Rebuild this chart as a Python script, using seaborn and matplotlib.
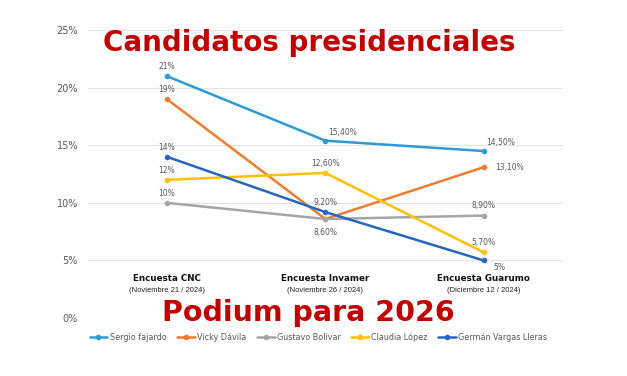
import matplotlib
matplotlib.use("Agg")
import matplotlib.pyplot as plt
import seaborn as sns
import pandas as pd
from matplotlib.lines import Line2D

encuestas = ["Encuesta CNC", "Encuesta Invamer", "Encuesta Guarumo"]
fechas = ["(Noviembre 21 / 2024)", "(Noviembre 26 / 2024)", "(Diciembre 12 / 2024)"]
candidatos = ["Sergio fajardo", "Vicky Dávila", "Gustavo Bolivar", "Claudia López", "Germán Vargas Lleras"]
sergio = [21.0, 15.4, 14.5]
vicky = [19.0, 8.6, 13.1]
gustavo = [10.0, 8.6, 8.9]
claudia = [12.0, 12.6, 5.7]
german = [14.0, 9.2, 5.0]
etiquetas = {
    "Sergio fajardo": ["21%", "15,40%", "14,50%"],
    "Vicky Dávila": ["19%", "", "13,10%"],
    "Gustavo Bolivar": ["10%", "8,60%", "8,90%"],
    "Claudia López": ["12%", "12,60%", "5,70%"],
    "Germán Vargas Lleras": ["14%", "9,20%", "5%"],
}
colores = ["#2E9BD6", "#ED7D31", "#A5A5A5", "#FFC000", "#2566C0"]
y_ticks = [0, 5, 10, 15, 20, 25]

valores = [sergio, vicky, gustavo, claudia, german]
rows = []
for c, vals in zip(candidatos, valores):
    for i, v in enumerate(vals):
        rows.append({"x": i, "valor": v, "candidato": c})
df = pd.DataFrame(rows)

sns.set_style("white")
fig = plt.figure(figsize=(6.27, 3.76), dpi=100)
ax = fig.add_axes([0.140, 0.154, 0.758, 0.766])

sns.lineplot(data=df, x="x", y="valor", hue="candidato", hue_order=candidatos,
             palette=colores, marker="o", markersize=4, markeredgewidth=0,
             linewidth=1.8, ax=ax, legend=False)

ax.set_xlim(-0.5, 2.5)
ax.set_ylim(0, 25)
ax.set_yticks(y_ticks)
ax.set_yticklabels([f"{t}%" for t in y_ticks], fontsize=7, color="#595959")
ax.set_xticks([])
ax.set_xlabel("")
ax.set_ylabel("")
ax.grid(axis="y", color="#E3E3E3", linewidth=0.8)
ax.set_axisbelow(True)
for s in ax.spines.values():
    s.set_visible(False)
ax.tick_params(axis="y", length=0, pad=7)

offs = {
    "Sergio fajardo": [(0, 7, "center"), (2, 6, "left"), (2, 6, "left")],
    "Vicky Dávila": [(0, 7, "center"), (0, 0, "center"), (8, 0, "left")],
    "Gustavo Bolivar": [(0, 7, "center"), (0, -10, "center"), (0, 7, "center")],
    "Claudia López": [(0, 7, "center"), (0, 7, "center"), (0, 7, "center")],
    "Germán Vargas Lleras": [(0, 7, "center"), (0, 7, "center"), (7, -5, "left")],
}
for c, vals in zip(candidatos, valores):
    for i, v in enumerate(vals):
        txt = etiquetas[c][i]
        if not txt:
            continue
        dx, dy, ha = offs[c][i]
        ax.annotate(txt, (i, v), xytext=(dx, dy), textcoords="offset points",
                    ha=ha, va="center", fontsize=5.5, color="#595959",
                    fontfamily="DejaVu Sans")

for i, (e, f) in enumerate(zip(encuestas, fechas)):
    ax.text(i, 3.45, e, ha="center", va="center", fontsize=6.3,
            fontweight="bold", fontfamily="DejaVu Sans", color="#111111")
    ax.text(i, 2.4, f, ha="center", va="center", fontsize=5.5,
            fontfamily="Liberation Sans", color="#222222")

fig.text(0.493, 0.885, "Candidatos presidenciales", ha="center", va="center",
         fontsize=20, fontweight="bold", fontfamily="DejaVu Sans", color="#C00000")
fig.text(0.492, 0.168, "Podium para 2026", ha="center", va="center",
         fontsize=20.5, fontweight="bold", fontfamily="DejaVu Sans", color="#C00000")

handles = [Line2D([0], [0], color=col, marker="o", markersize=3, linewidth=1.8)
           for col in colores]
fig.legend(handles, candidatos, loc="center", bbox_to_anchor=(0.508, 0.103),
           ncol=5, frameon=False, fontsize=5.8, labelcolor="#595959",
           handlelength=2.2, columnspacing=1.3, handletextpad=0.3)

fig.savefig("out.png", dpi=100)
